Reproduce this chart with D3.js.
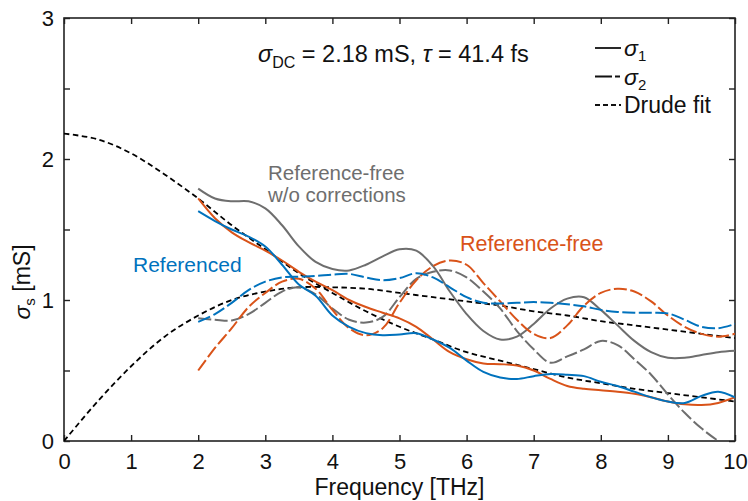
<!DOCTYPE html>
<html>
<head>
<meta charset="utf-8">
<script src="https://cdn.jsdelivr.net/npm/d3@7"></script>
<style>
  body { margin: 0; background: #fff; }
  text { font-family: "Liberation Sans", Arial, sans-serif; }
</style>
</head>
<body>
<div id="chart"></div>
<script>
// frequency grids [THz]
const freq = [2, 2.25, 2.5, 2.75, 3, 3.25, 3.5, 3.75, 4, 4.25, 4.5, 4.75, 5, 5.25, 5.5, 5.75,
  6, 6.25, 6.5, 6.75, 7, 7.25, 7.5, 7.75, 8, 8.25, 8.5, 8.75, 9, 9.25, 9.5, 9.75, 10];
const drudeFreq = [0, 0.5, 1, 1.5, 2, 2.5, 3, 3.5, 4, 4.5, 5, 5.5, 6, 6.5, 7, 7.5, 8, 8.5, 9, 9.5, 10];

// sheet conductance [mS]
const refS1 = [1.63, 1.56, 1.50, 1.45, 1.38, 1.25, 1.11, 1.03, 0.89, 0.81, 0.765, 0.75, 0.755, 0.765, 0.72, 0.66,
  0.57, 0.49, 0.45, 0.44, 0.46, 0.475, 0.47, 0.46, 0.42, 0.39, 0.35, 0.31, 0.28, 0.27, 0.32, 0.35, 0.31];
const refS2 = [0.845, 0.90, 0.98, 1.07, 1.13, 1.16, 1.165, 1.17, 1.18, 1.185, 1.16, 1.14, 1.155, 1.19, 1.16, 1.09,
  1.02, 0.98, 0.975, 0.98, 0.985, 0.98, 0.97, 0.955, 0.93, 0.915, 0.91, 0.91, 0.905, 0.86, 0.81, 0.80, 0.83];
const freeS1 = [1.72, 1.58, 1.48, 1.41, 1.35, 1.28, 1.20, 1.13, 1.07, 1.00, 0.95, 0.91, 0.87, 0.81, 0.72, 0.63,
  0.58, 0.55, 0.545, 0.535, 0.50, 0.44, 0.39, 0.37, 0.36, 0.35, 0.335, 0.31, 0.28, 0.26, 0.255, 0.27, 0.31];
const freeS2 = [0.50, 0.66, 0.80, 0.95, 1.05, 1.13, 1.15, 1.08, 0.93, 0.80, 0.75, 0.80, 0.98, 1.14, 1.24, 1.28,
  1.25, 1.12, 0.99, 0.86, 0.76, 0.73, 0.82, 0.96, 1.05, 1.08, 1.06, 0.99, 0.89, 0.81, 0.76, 0.74, 0.76];
const rawS1 = [1.79, 1.72, 1.70, 1.70, 1.65, 1.53, 1.38, 1.27, 1.22, 1.21, 1.25, 1.31, 1.36, 1.35, 1.24, 1.06,
  0.90, 0.78, 0.72, 0.74, 0.83, 0.94, 1.01, 1.02, 0.93, 0.82, 0.71, 0.63, 0.59, 0.59, 0.61, 0.63, 0.64];
const rawS2 = [0.87, 0.86, 0.855, 0.90, 0.98, 1.06, 1.09, 1.04, 0.94, 0.86, 0.84, 0.88, 1.02, 1.15, 1.20, 1.21,
  1.16, 1.06, 0.94, 0.78, 0.65, 0.555, 0.60, 0.65, 0.71, 0.68, 0.58, 0.47, 0.33, 0.20, 0.09, 0.0, -0.08];
const drudeS1 = [2.18, 2.14, 2.04, 1.89, 1.72, 1.53, 1.36, 1.19, 1.05, 0.92, 0.81, 0.72, 0.63, 0.57, 0.51,
  0.45, 0.41, 0.37, 0.34, 0.31, 0.28];
const drudeS2 = [0, 0.28, 0.53, 0.74, 0.89, 1.00, 1.06, 1.09, 1.09, 1.08, 1.05, 1.02, 0.99, 0.96, 0.92,
  0.89, 0.85, 0.82, 0.79, 0.76, 0.73];

const xTicks = [0, 1, 2, 3, 4, 5, 6, 7, 8, 9, 10];
const yTicks = [0, 0.5, 1, 1.5, 2, 2.5, 3];

const W = 748, H = 501;
const margin = { top: 18, right: 13, bottom: 60, left: 64 };
const width = W - margin.left - margin.right,
      height = H - margin.top - margin.bottom;

const blue = "#0072bd", orange = "#d95319", gray = "#6e6e6e";
const dash2 = "13,3.5", dashFit = "5.5,3.5";

const svg = d3.select("#chart").append("svg")
    .attr("width", W).attr("height", H);
const g = svg.append("g").attr("transform", `translate(${margin.left},${margin.top})`);

const x = d3.scaleLinear().domain([0, 10]).range([0, width]);
const y = d3.scaleLinear().domain([0, 3]).range([height, 0]);

g.append("clipPath").attr("id", "clip")
  .append("rect").attr("width", width).attr("height", height);

// axes with inward ticks on all four sides
const tickFmt = d => Number.isInteger(d) ? d : "";
g.append("g").attr("transform", `translate(0,${height})`)
  .call(d3.axisBottom(x).tickValues(xTicks).tickSizeInner(-6).tickSizeOuter(0).tickPadding(12))
  .call(a => a.selectAll("text").attr("font-size", 22).attr("fill", "#111"));
g.append("g")
  .call(d3.axisTop(x).tickValues(xTicks).tickSizeInner(-6).tickSizeOuter(0).tickFormat(""));
g.append("g")
  .call(d3.axisLeft(y).tickValues(yTicks).tickSizeInner(-6).tickSizeOuter(0).tickPadding(10).tickFormat(tickFmt))
  .call(a => a.selectAll("text").attr("font-size", 22).attr("fill", "#111"));
g.append("g").attr("transform", `translate(${width},0)`)
  .call(d3.axisRight(y).tickValues(yTicks).tickSizeInner(-6).tickSizeOuter(0).tickFormat(""));
g.selectAll(".domain").remove();
g.selectAll(".tick line").attr("stroke", "#222").attr("stroke-width", 1.4);
g.append("rect").attr("width", width).attr("height", height)
  .attr("fill", "none").attr("stroke", "#222").attr("stroke-width", 1.6);

const line = d3.line().curve(d3.curveCatmullRom.alpha(0.5))
  .x(d => x(d[0])).y(d => y(d[1]));

const series = [
  { f: drudeFreq, v: drudeS2, color: "#000", dash: dashFit, w: 1.8 },
  { f: drudeFreq, v: drudeS1, color: "#000", dash: dashFit, w: 1.8 },
  { f: freq, v: rawS2, color: gray, dash: dash2, w: 2 },
  { f: freq, v: rawS1, color: gray, dash: null, w: 2 },
  { f: freq, v: freeS2, color: orange, dash: dash2, w: 2 },
  { f: freq, v: freeS1, color: orange, dash: null, w: 2 },
  { f: freq, v: refS2, color: blue, dash: dash2, w: 2 },
  { f: freq, v: refS1, color: blue, dash: null, w: 2 }
];

const plot = g.append("g").attr("clip-path", "url(#clip)");
plot.selectAll("path.s").data(series).join("path")
  .attr("class", "s")
  .attr("d", s => line(s.f.map((f, i) => [f, s.v[i]])))
  .attr("fill", "none")
  .attr("stroke", s => s.color)
  .attr("stroke-width", s => s.w)
  .attr("stroke-dasharray", s => s.dash);

// curve labels
g.append("text").attr("x", 204).attr("y", 162).attr("font-size", 20.5).attr("fill", gray).text("Reference-free");
g.append("text").attr("x", 204).attr("y", 184).attr("font-size", 20.5).attr("fill", gray).text("w/o corrections");
g.append("text").attr("x", 69).attr("y", 254).attr("font-size", 21).attr("fill", blue).text("Referenced");
g.append("text").attr("x", 396).attr("y", 233).attr("font-size", 21.5).attr("fill", orange).text("Reference-free");

// fit parameters
const par = g.append("text").attr("x", 194).attr("y", 44).attr("font-size", 23.5).attr("fill", "#111");
par.append("tspan").attr("font-style", "italic").text("σ");
par.append("tspan").attr("font-size", 16).attr("dy", 6).text("DC");
par.append("tspan").attr("dy", -6).text(" = 2.18 mS, ");
par.append("tspan").attr("font-style", "italic").text("τ");
par.append("tspan").text(" = 41.4 fs");

// legend
const legend = [
  { name: "σ", sub: "1", dash: null },
  { name: "σ", sub: "2", dash: "17,3,5,40" },
  { name: "Drude fit", sub: null, dash: "5,3" }
];
const lg = g.append("g").attr("transform", "translate(531,30)");
legend.forEach((d, i) => {
  const row = lg.append("g").attr("transform", `translate(0,${i * 28.5})`);
  row.append("line").attr("x1", 0).attr("x2", 26).attr("stroke", "#111").attr("stroke-width", 1.8)
    .attr("stroke-dasharray", d.dash);
  const t = row.append("text").attr("x", 29).attr("y", 8).attr("font-size", 23).attr("fill", "#111");
  if (d.sub) {
    t.append("tspan").attr("font-style", "italic").text(d.name);
    t.append("tspan").attr("font-size", 15).attr("dy", 5).text(d.sub);
  } else {
    t.text(d.name);
  }
});

// axis titles
svg.append("text").attr("x", margin.left + width / 2).attr("y", 495)
  .attr("text-anchor", "middle").attr("font-size", 23).attr("fill", "#111").text("Frequency [THz]");
const yl = svg.append("text").attr("transform", "translate(30,282) rotate(-90)")
  .attr("text-anchor", "middle").attr("font-size", 23).attr("fill", "#111");
yl.append("tspan").attr("font-style", "italic").text("σ");
yl.append("tspan").attr("font-size", 15).attr("dy", 5).text("s");
yl.append("tspan").attr("dy", -5).text(" [mS]");
</script>
</body>
</html>
